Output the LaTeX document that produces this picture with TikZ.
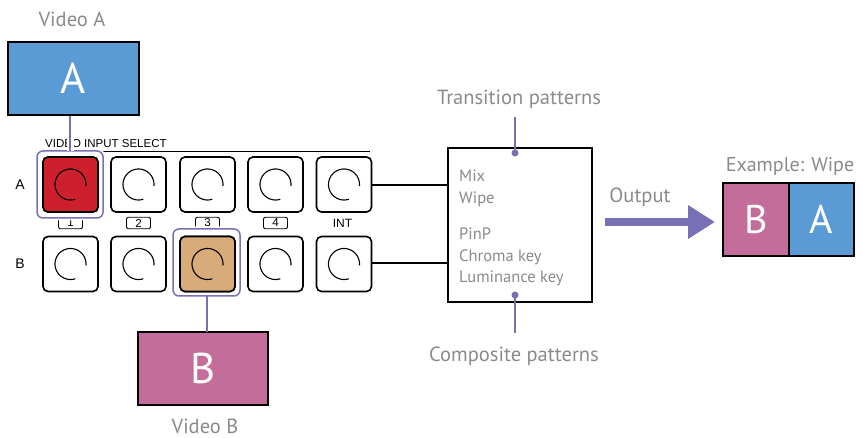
\documentclass[tikz,border=0pt]{standalone}
\usepackage{fontspec}
\setmainfont{PT Sans}
\newfontfamily\arialf{Liberation Sans}
\usetikzlibrary{arrows.meta}
\definecolor{vblue}{RGB}{91,155,213}
\definecolor{vpink}{RGB}{196,108,154}
\definecolor{vpurple}{RGB}{120,112,180}
\definecolor{vred}{RGB}{206,32,44}
\definecolor{vtan}{RGB}{216,172,122}
\definecolor{vgray}{RGB}{138,138,138}
\tikzset{
  btn/.style={draw=black,line width=1.6pt,rounded corners=5pt,minimum width=55pt,minimum height=55pt,inner sep=0pt,fill=white},
  numlbl/.style={draw=black,line width=0.9pt,rounded corners=2pt,minimum width=24pt,minimum height=11.5pt,inner sep=0pt,font=\arialf\fontsize{11.5}{11}\selectfont},
  hilite/.style={draw=vpurple,line width=1.5pt,rounded corners=6pt},
  whiteunder/.style={draw=white,line width=5pt},
  video/.style={draw=black,line width=1.2pt,inner sep=0pt,text=white,font=\fontsize{43}{43}\selectfont},
  graytxt/.style={text=vgray,inner sep=0pt},
  plink/.style={draw=vpurple,line width=1.5pt},
  knob/.style={line width=1.1pt},
}
\begin{document}
\begin{tikzpicture}[x=1pt,y=-1pt]
\useasboundingbox (0,0) rectangle (863,438);
% video A
\node[graytxt,anchor=base,font=\fontsize{20.5}{20}\selectfont] (vAlbl) at (72,27) {Video A};
\node[video,fill=vblue,minimum width=131pt,minimum height=73pt] (vA) at (73.5,78.5) {A};
% panel title
\node[anchor=base west,inner sep=0pt,font=\arialf\fontsize{11.5}{11}\selectfont] (title) at (45,147.5) {VIDEO INPUT SELECT};
\draw[line width=1pt] (103,152) coordinate (tl1) -- (370,152) coordinate (tl2);
% row labels
\node[font=\arialf\fontsize{14}{14}\selectfont,inner sep=0pt] (rA) at (20,184.5) {A};
\node[font=\arialf\fontsize{14}{14}\selectfont,inner sep=0pt] (rB) at (20,264) {B};
% buttons
\foreach \i/\x in {1/70.5,2/138.5,3/207.5,4/275.5,5/344}{
  \node[btn] (a\i) at (\x,184.5) {};
  \node[btn] (b\i) at (\x,264) {};
}
\node[btn,fill=vred] at (a1) {};
\node[btn,fill=vtan] at (b3) {};
\foreach \n in {a1,a2,a3,a4,a5,b1,b2,b3,b4,b5}{
  \begin{scope}[shift={(\n.center)}]
  \draw[knob] plot[domain=72:365,samples=60,variable=\t] ({15.5*cos(\t)},{15.5*sin(\t)});
  \end{scope}
}
% number labels
\node[numlbl] (n1) at (70.5,223) {1};
\node[numlbl] (n2) at (138.5,223) {2};
\node[numlbl] (n3) at (207.5,223) {3};
\node[numlbl] (n4) at (275.5,223) {4};
\node[inner sep=0pt,font=\arialf\fontsize{12}{12}\selectfont] (nint) at (342.5,223) {INT};
% highlights
\coordinate (hA1) at (37,151); \coordinate (hA2) at (103,218);
\coordinate (hB1) at (173,229); \coordinate (hB2) at (240,296);
\draw[whiteunder,rounded corners=6pt] (hA1) rectangle (hA2);
\draw[whiteunder,rounded corners=6pt] (hB1) rectangle (hB2);
\draw[hilite] (hA1) rectangle (hA2);
\draw[hilite] (hB1) rectangle (hB2);
% link A
\coordinate (lA) at (70,151);
\coordinate (lA0) at (70,115.6);
\draw[draw=white,line width=7pt] (lA0) -- (lA);
\draw[plink] (lA0) -- (lA);
% video B
\node[video,fill=vpink,minimum width=130pt,minimum height=73pt] (vB) at (203,368.5) {B};
\node[graytxt,anchor=base,font=\fontsize{20.5}{20}\selectfont] (vBlbl) at (205,434) {Video B};
\coordinate (lB0) at (207,296);
\coordinate (lB1) at (207,332);
\draw[plink] (lB0) -- (lB1);
% effect box
\node[draw=black,line width=2pt,minimum width=144pt,minimum height=154pt,inner sep=0pt] (fx) at (520,225) {};
\draw[line width=2pt] (a5.east |- 0,185) -- (fx.west |- 0,185);
\draw[line width=2pt] (b5.east |- 0,263) -- (fx.west |- 0,263);
\begin{scope}[every node/.style={graytxt,anchor=base west,font=\fontsize{16.5}{16}\selectfont}]
\node (t1) at (459,182) {Mix};
\node (t2) at (459,203.5) {Wipe};
\node (t3) at (459,240) {PinP};
\node (t4) at (459,261.5) {Chroma key};
\node (t5) at (459,283) {Luminance key};
\end{scope}
% pattern labels
\node[graytxt,anchor=base,font=\fontsize{20.5}{20}\selectfont] (trans) at (519,105) {Transition patterns};
\node[graytxt,anchor=base,font=\fontsize{20.5}{20}\selectfont] (comp) at (514,362) {Composite patterns};
\coordinate (d1) at (515,153);
\coordinate (d2) at (515,295);
\coordinate (d1e) at (515,117);
\coordinate (d2e) at (515,333);
\fill[vpurple] (d1) circle[radius=3.5pt];
\fill[vpurple] (d2) circle[radius=3.5pt];
\draw[plink] (d1) -- (d1e);
\draw[plink] (d2) -- (d2e);
% output
\node[graytxt,anchor=base,font=\fontsize{20.5}{20}\selectfont] (outl) at (640,203) {Output};
\coordinate (o1) at (605,222);
\coordinate (o2) at (715,222);
\draw[vpurple,line width=8pt,-{Triangle[length=27pt,width=32pt]}] (o1) -- (o2);
% wipe example
\node[graytxt,anchor=base,font=\fontsize{20}{20}\selectfont] (exl) at (790,172) {Example: Wipe};
\node[video,fill=vpink,minimum width=66pt,minimum height=73pt,font=\fontsize{40}{40}\selectfont] (wB) at (756,219.5) {B};
\node[video,fill=vblue,minimum width=65pt,minimum height=73pt,font=\fontsize{40}{40}\selectfont] (wA) at (821.5,219.5) {A};
\end{tikzpicture}
\end{document}
